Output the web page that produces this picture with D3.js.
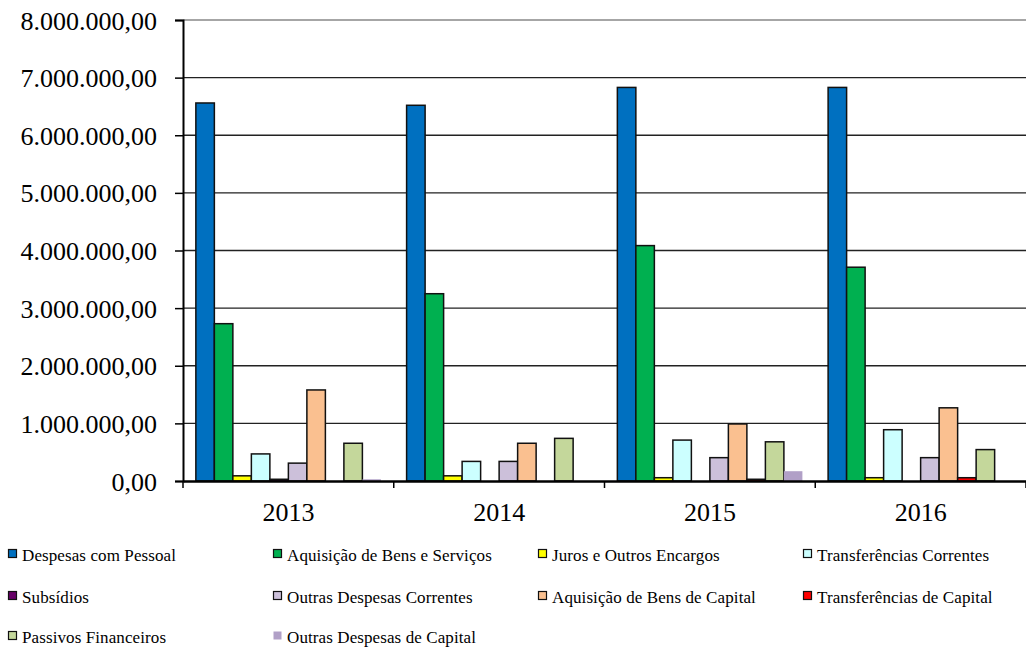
<!DOCTYPE html>
<html>
<head>
<meta charset="utf-8">
<script src="https://cdn.jsdelivr.net/npm/d3@7"></script>
<style>
  body { margin: 0; background: #fff; }
  svg text { font-family: 'Liberation Serif', 'Times New Roman', Tinos, 'DejaVu Serif', serif; fill: #000; }
</style>
</head>
<body>
<script>
// Data
const years = ['2013', '2014', '2015', '2016'];
const seriesNames = [
  'Despesas com Pessoal', 'Aquisição de Bens e Serviços', 'Juros e Outros Encargos', 'Transferências Correntes',
  'Subsídios', 'Outras Despesas Correntes', 'Aquisição de Bens de Capital', 'Transferências de Capital',
  'Passivos Financeiros', 'Outras Despesas de Capital'
];
const despesasPessoal = [6560000, 6520000, 6830000, 6830000];
const aquisicaoBensServicos = [2730000, 3250000, 4085000, 3710000];
const jurosEncargos = [90000, 90000, 57000, 57000];
const transfCorrentes = [470000, 340000, 710000, 890000];
const subsidios = [30000, 0, 0, 0];
const outrasCorrentes = [310000, 340000, 405000, 405000];
const aquisicaoBensCapital = [1580000, 655000, 990000, 1270000];
const transfCapital = [0, 0, 30000, 57000];
const passivosFinanceiros = [655000, 740000, 680000, 545000];
const outrasCapital = [30000, 0, 170000, 0];
const yTicks = [0, 1000000, 2000000, 3000000, 4000000, 5000000, 6000000, 7000000, 8000000];

const seriesValues = [
  despesasPessoal, aquisicaoBensServicos, jurosEncargos, transfCorrentes, subsidios,
  outrasCorrentes, aquisicaoBensCapital, transfCapital, passivosFinanceiros, outrasCapital
];
const colors = ['#0070C0', '#00B050', '#FFFF00', '#CCFFFF', '#660066',
                '#CCC0DA', '#FAC090', '#FF0000', '#C4D79B', '#B1A0C7'];
const noBorder = [false, false, false, false, false, false, false, false, false, true];

const serif = "'Liberation Serif', 'Times New Roman', Tinos, 'DejaVu Serif', serif";
const width = 1026, height = 647;
const plot = { left: 183, right: 1026, top: 20, bottom: 481 };

const svg = d3.select('body').append('svg')
  .attr('width', width)
  .attr('height', height);

const x0 = d3.scaleBand().domain(years).range([plot.left, plot.right]);
const pad = x0.bandwidth() * 0.061;
const x1 = d3.scaleBand().domain(d3.range(seriesNames.length))
  .range([pad, x0.bandwidth() - pad]);
const y = d3.scaleLinear().domain([0, 8000000]).range([plot.bottom, plot.top]);

const fmt = v => {
  const s = d3.format(',.2f')(v);
  return s.replace(/,/g, '#').replace('.', ',').replace(/#/g, '.');
};

// Gridlines
svg.append('g').selectAll('line')
  .data(yTicks.filter(d => d > 0))
  .enter().append('line')
  .attr('x1', plot.left).attr('x2', plot.right)
  .attr('y1', d => y(d)).attr('y2', d => y(d))
  .attr('stroke', d => d === 8000000 ? '#888' : '#222')
  .attr('stroke-width', 1.3);

// Bars
const rows = [];
years.forEach((yr, i) => {
  seriesValues.forEach((vals, s) => {
    if (vals[i] > 0) rows.push({ year: yr, s: s, v: vals[i] });
  });
});

svg.append('g').selectAll('rect')
  .data(rows)
  .enter().append('rect')
  .attr('x', d => x0(d.year) + x1(d.s))
  .attr('y', d => y(d.v))
  .attr('width', x1.bandwidth())
  .attr('height', d => plot.bottom - y(d.v))
  .attr('fill', d => colors[d.s])
  .attr('stroke', d => noBorder[d.s] ? 'none' : '#111')
  .attr('stroke-width', 1.5);

// Y axis
const yAxis = svg.append('g')
  .attr('transform', `translate(${plot.left},0)`)
  .call(d3.axisLeft(y).tickValues(yTicks).tickSize(8).tickPadding(18).tickFormat(fmt));
yAxis.attr('font-family', null);
yAxis.select('.domain').attr('stroke', '#000').attr('stroke-width', 2);
yAxis.selectAll('.tick line').attr('stroke', '#000').attr('stroke-width', 1.5);
yAxis.selectAll('.tick text')
  .attr('dy', '0.35em')
  .style('font-family', serif)
  .style('font-size', '26px');

// X axis
const xAxis = svg.append('g')
  .attr('transform', `translate(0,${plot.bottom})`)
  .call(d3.axisBottom(x0).tickSize(0).tickPadding(22));
xAxis.attr('font-family', null);
xAxis.select('.domain').attr('stroke', '#000').attr('stroke-width', 2.5);
xAxis.selectAll('.tick text')
  .style('font-family', serif)
  .style('font-size', '26px');
svg.append('g').selectAll('line')
  .data(years.slice(0).concat(['end']))
  .enter().append('line')
  .attr('x1', d => d === 'end' ? plot.right : x0(d))
  .attr('x2', d => d === 'end' ? plot.right : x0(d))
  .attr('y1', plot.bottom).attr('y2', plot.bottom + 7)
  .attr('stroke', '#000').attr('stroke-width', 1.5);

// Legend
const legendCols = [8, 273, 538, 803];
const legendBaselines = [561, 603, 643];
const legend = svg.append('g').selectAll('g')
  .data(seriesNames)
  .enter().append('g')
  .attr('transform', (d, i) => `translate(${legendCols[i % 4]},${legendBaselines[Math.floor(i / 4)]})`);
legend.append('rect')
  .attr('x', 0.5).attr('y', -11.5)
  .attr('width', 8).attr('height', 8)
  .attr('fill', (d, i) => colors[i])
  .attr('stroke', (d, i) => noBorder[i] ? 'none' : '#111')
  .attr('stroke-width', 1.2);
legend.append('text')
  .attr('x', 14).attr('y', 0)
  .style('font-family', serif)
  .style('font-size', '17px')
  .style('letter-spacing', '0.1px')
  .text(d => d);
</script>
</body>
</html>
